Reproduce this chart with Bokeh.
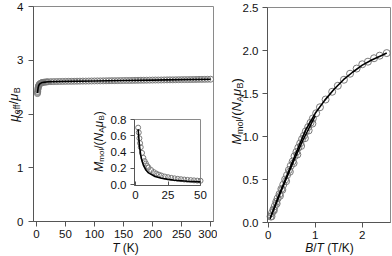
import math
from bokeh.plotting import figure
from bokeh.models import Range1d, LinearAxis, FixedTicker, NumeralTickFormatter, Label
from bokeh.layouts import row
from bokeh.embed import file_html
from bokeh.resources import INLINE

# ---------------- data ----------------
T_main = [1.8, 2.0, 2.2, 2.5, 2.8, 3.0, 3.5, 4.0, 4.5, 5, 6, 7, 8, 9, 10, 12, 14, 16, 18, 20,
          25, 30, 35, 40, 45, 50, 55, 60, 65, 70, 75, 80, 85, 90, 95, 100, 105, 110, 115, 120,
          125, 130, 135, 140, 145, 150, 155, 160, 165, 170, 175, 180, 185, 190, 195, 200,
          205, 210, 215, 220, 225, 230, 235, 240, 245, 250, 255, 260, 265, 270, 275, 280,
          285, 290, 295, 300]
mu_eff = [2.38, 2.40, 2.42, 2.45, 2.47, 2.49, 2.51, 2.53, 2.54, 2.55, 2.56, 2.57, 2.575, 2.58, 2.585,
          2.59, 2.592, 2.595, 2.597, 2.600,
          2.602, 2.603, 2.604, 2.605, 2.606, 2.607, 2.608, 2.608, 2.609, 2.610, 2.611, 2.612,
          2.612, 2.613, 2.614, 2.615, 2.616, 2.616, 2.617, 2.618, 2.619, 2.620, 2.620, 2.621,
          2.622, 2.623, 2.624, 2.624, 2.625, 2.626, 2.627, 2.628, 2.628, 2.629, 2.630, 2.631,
          2.632, 2.632, 2.633, 2.634, 2.635, 2.636, 2.636, 2.637, 2.638, 2.639, 2.640, 2.640,
          2.641, 2.642, 2.643, 2.644, 2.644, 2.645, 2.646, 2.647]
T_fit = [1.8, 2, 2.5, 3, 4, 5, 7, 10, 15, 20, 30, 50, 100, 150, 200, 250, 300]
mu_fit = [2.39, 2.41, 2.45, 2.49, 2.53, 2.55, 2.57, 2.585, 2.593, 2.600, 2.603, 2.607, 2.615,
          2.623, 2.631, 2.639, 2.647]

T_inset = [2, 2.5, 3, 3.5, 4, 5, 6, 7, 8, 9, 10, 12, 14, 16, 18, 20, 22.5, 25, 27.5, 30,
           32.5, 35, 37.5, 40, 42.5, 45, 47.5, 50]
M_inset = [0.70, 0.64, 0.57, 0.51, 0.46, 0.39, 0.33, 0.29, 0.26, 0.23, 0.21, 0.18, 0.155, 0.137,
           0.123, 0.112, 0.100, 0.092, 0.084, 0.078, 0.072, 0.067, 0.063, 0.059, 0.056, 0.053,
           0.050, 0.048]
T_inset_fit = [2, 3, 4, 5, 6, 8, 10, 15, 20, 25, 30, 40, 50]
M_inset_fit = [0.68, 0.48, 0.36, 0.29, 0.24, 0.18, 0.145, 0.10, 0.078, 0.065, 0.055, 0.042, 0.034]

BT_a = [0.05, 0.08, 0.11, 0.14, 0.17, 0.20, 0.24, 0.28, 0.32, 0.36, 0.40, 0.44, 0.48, 0.52,
        0.56, 0.60, 0.64, 0.68, 0.72, 0.76, 0.80, 0.85, 0.90, 0.95]
M_a = [0.07, 0.11, 0.15, 0.19, 0.24, 0.28, 0.33, 0.39, 0.44, 0.50, 0.55, 0.61, 0.66, 0.71,
       0.77, 0.82, 0.87, 0.92, 0.97, 1.01, 1.06, 1.11, 1.16, 1.21]
BT_b = [0.07, 0.12, 0.18, 0.25, 0.30, 0.38, 0.46, 0.54, 0.62, 0.70, 0.78, 0.86, 0.94]
M_b = [0.07, 0.14, 0.22, 0.31, 0.38, 0.48, 0.59, 0.69, 0.79, 0.89, 0.98, 1.07, 1.15]
BT_c = [1.02, 1.10, 1.22, 1.36, 1.48, 1.61, 1.74, 1.88, 2.00, 2.12, 2.25, 2.37, 2.52]
M_c = [1.27, 1.34, 1.43, 1.52, 1.59, 1.66, 1.73, 1.79, 1.84, 1.87, 1.91, 1.94, 1.97]
BT_fit = [0.04, 0.2, 0.4, 0.6, 0.8, 1.0, 1.2, 1.4, 1.6, 1.8, 2.0, 2.2, 2.4, 2.52]
M_fit = [0.05, 0.28, 0.55, 0.82, 1.08, 1.27, 1.42, 1.55, 1.66, 1.75, 1.83, 1.89, 1.94, 1.97]
BT_fit2 = [0.04, 0.25, 0.5, 0.75, 1.0]
M_fit2 = [0.04, 0.33, 0.66, 0.97, 1.24]

main_xticks = [0, 50, 100, 150, 200, 250, 300]
main_yticks = [0, 1, 2, 3, 4]
inset_xticks = [0, 25, 50]
inset_yticks = [0.0, 0.2, 0.4, 0.6, 0.8]
right_xticks = [0, 1, 2]
right_yticks = [0.0, 0.5, 1.0, 1.5, 2.0, 2.5]

# ---------------- style ----------------
FONT = "Liberation Sans"
AX = "#555555"
FRAME = "#8a8a8a"
CIRC = "#7a7a7a"
TXT = "#111111"
TICKFS = "11.5px"

W = {'0': .556, '1': .556, '2': .556, '3': .556, '4': .556, '5': .556, '6': .556, '7': .556,
     '8': .556, '9': .556, 'μ': .576, 'e': .556, 'f': .278, '/': .278, 'B': .667, 'M': .833,
     'm': .833, 'o': .556, 'l': .222, '(': .333, ')': .333, 'N': .722, 'A': .667, 'T': .611,
     'K': .667, ' ': .278}


def tw(s, size):
    return sum(W.get(c, .556) for c in s) * size


def text_run(p, pieces, cx, cy, vertical, baseline="alphabetic"):
    """cx, cy: screen px from left / bottom of the canvas."""
    total = sum(tw(t, s) for t, s, it, sub in pieces)
    pos = (cy if vertical else cx) - total / 2
    for t, s, it, sub in pieces:
        lead = len(t) - len(t.lstrip(" "))
        pos += tw(" " * lead, s)
        t = t.lstrip(" ")
        shift = 3 if sub else 0
        if vertical:
            x, y, ang = cx + shift, pos, math.pi / 2
        else:
            x, y, ang = pos, cy - shift, 0
        p.add_layout(Label(x=x, y=y, x_units="screen", y_units="screen", text=t, angle=ang,
                           text_font=FONT, text_font_size=f"{s}px", text_color=TXT,
                           text_font_style="italic" if it else "normal",
                           text_align="left", text_baseline=baseline))
        pos += tw(t, s)


def mapped(d0, d1, p0, p1, total):
    """Range whose values d0, d1 land on pixels p0, p1 of a canvas 'total' px long."""
    k = (d1 - d0) / (p1 - p0)
    return Range1d(d0 - p0 * k, d0 + (total - p0) * k)


def add_axis(p, side, ticks, loc, bounds, fmt=None, tick_out=5, tick_in=0, standoff=3,
             xr="default", yr="default"):
    ax = LinearAxis(x_range_name=xr, y_range_name=yr, fixed_location=loc, bounds=bounds)
    ax.ticker = FixedTicker(ticks=ticks)
    if fmt:
        ax.formatter = NumeralTickFormatter(format=fmt)
    ax.axis_line_color = AX
    ax.major_tick_line_color = AX
    ax.minor_tick_line_color = None
    ax.major_tick_out = tick_out
    ax.major_tick_in = tick_in
    ax.major_label_standoff = standoff
    ax.major_label_text_font = FONT
    ax.major_label_text_font_size = TICKFS
    ax.major_label_text_color = TXT
    p.add_layout(ax, side)


def make_fig(w, h, xr, yr):
    p = figure(width=w, height=h, x_range=xr, y_range=yr, output_backend="svg",
               toolbar_location=None, x_axis_location=None, y_axis_location=None, min_border=0)
    p.grid.visible = False
    p.outline_line_color = None
    return p


# ---------------- left figure (canvas 217 x 256) ----------------
LW, LH = 217, 256
mx0, mx1, my0, my1 = -5, 305, 0, 4
px0, px1 = 33, 213          # frame pixels from left
py0, py1 = 35, 250          # frame pixels from bottom
p1 = make_fig(LW, LH, mapped(mx0, mx1, px0, px1, LW), mapped(my0, my1, py0, py1, LH))
p1.quad(left=[mx0], right=[mx1], bottom=[my0], top=[my1], fill_color=None,
        line_color=FRAME, line_width=1)
add_axis(p1, "below", main_xticks, my0, (mx0, mx1), standoff=3)
add_axis(p1, "left", main_yticks, mx0, (my0, my1), standoff=5)

p1.scatter(T_main, mu_eff, marker="circle", size=6, fill_color=None, line_color=CIRC, line_width=1)
p1.line(T_fit, mu_fit, line_color="black", line_width=1.6)

# inset
ix0, ix1, iy0, iy1 = -0.8, 50, -0.01, 0.8
p1.extra_x_ranges = {"ix": mapped(ix0, ix1, 134, 200, LW)}
p1.extra_y_ranges = {"iy": mapped(iy0, iy1, 71, 137, LH)}
p1.quad(left=[ix0], right=[ix1], bottom=[iy0], top=[iy1], x_range_name="ix", y_range_name="iy",
        fill_color="white", line_color=FRAME, line_width=1)
add_axis(p1, "left", inset_yticks, ix0, (iy0, iy1), fmt="0.0", tick_out=4, standoff=4,
         xr="ix", yr="iy")
add_axis(p1, "below", inset_xticks, iy0, (ix0, ix1), tick_out=0, tick_in=4, standoff=5,
         xr="ix", yr="iy")
p1.scatter(T_inset, M_inset, marker="circle", size=5, fill_color=None, line_color=CIRC,
           line_width=1, x_range_name="ix", y_range_name="iy")
p1.line(T_inset_fit, M_inset_fit, line_color="black", line_width=1.6,
        x_range_name="ix", y_range_name="iy")

text_run(p1, [("T", 12, True, False), (" (K)", 12, False, False)], 125, 9, False,
         baseline="middle")
text_run(p1, [("μ", 13, True, False), ("eff", 9, False, True), ("/", 13, False, False),
              ("μ", 13, True, False), ("B", 9, False, True)], 13, 152, True)
text_run(p1, [("M", 12, True, False), ("mol", 8, False, True), ("/(", 12, False, False),
              ("N", 12, True, False), ("A", 8, False, True), ("μ", 12, True, False),
              ("B", 8, False, True), (")", 12, False, False)], 98, 115, True)

# ---------------- right figure (canvas 175 x 256) ----------------
RW = 175
rx0, rx1, ry0, ry1 = -0.015, 2.6, 0, 2.5
p2 = make_fig(RW, LH, mapped(rx0, rx1, 50, 173, RW), mapped(ry0, ry1, 34, 249, LH))
p2.quad(left=[rx0], right=[rx1], bottom=[ry0], top=[ry1], fill_color=None,
        line_color=FRAME, line_width=1)
add_axis(p2, "below", right_xticks, ry0, (rx0, rx1), standoff=3)
add_axis(p2, "left", right_yticks, rx0, (ry0, ry1), fmt="0.0", standoff=4)

for bx, my in ((BT_a, M_a), (BT_b, M_b), (BT_c, M_c)):
    p2.scatter(bx, my, marker="circle", size=7, fill_color=None, line_color=CIRC, line_width=1)
p2.line(BT_fit2, M_fit2, line_color="black", line_width=1.4)
p2.line(BT_fit, M_fit, line_color="black", line_width=1.6)

text_run(p2, [("B", 12, True, False), ("/", 12, False, False), ("T", 12, True, False),
              (" (T/K)", 12, False, False)], 112, 9, False, baseline="middle")
text_run(p2, [("M", 13, True, False), ("mol", 9, False, True), ("/(", 13, False, False),
              ("N", 13, True, False), ("A", 9, False, True), ("μ", 13, True, False),
              ("B", 9, False, True), (")", 13, False, False)], 19, 145, True)

layout = row(p1, p2)
open("out.html", "w").write(file_html(layout, INLINE))
